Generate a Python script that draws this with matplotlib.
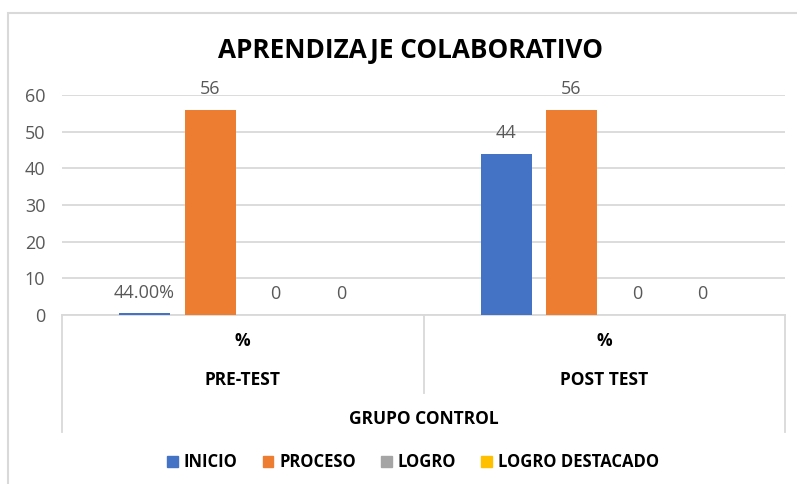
import numpy as np
import matplotlib.pyplot as plt
from matplotlib.patches import Rectangle
from matplotlib.lines import Line2D

plt.rcParams['font.family'] = ['Open Sans', 'DejaVu Sans']

series = ['INICIO', 'PROCESO', 'LOGRO', 'LOGRO DESTACADO']
colors = ['#4472C4', '#ED7D31', '#A5A5A5', '#FFC000']
groups = ['PRE-TEST', 'POST TEST']
sub_label = '%'
outer_label = 'GRUPO CONTROL'
values = {
    'INICIO': [0.44, 44],
    'PROCESO': [56, 56],
    'LOGRO': [0, 0],
    'LOGRO DESTACADO': [0, 0],
}
labels = {
    'INICIO': ['44.00%', '44'],
    'PROCESO': ['56', '56'],
    'LOGRO': ['0', '0'],
    'LOGRO DESTACADO': ['0', '0'],
}
yticks = [0, 10, 20, 30, 40, 50, 60]

fig = plt.figure(figsize=(7.97, 4.84), dpi=100)
ax = fig.add_axes([62/797, 1-315/484, (785-62)/797, 220/484])

x = np.arange(len(groups))
width = 0.141
step = 0.181
for i, s in enumerate(series):
    off = (i - 1.5) * step
    bars = ax.bar(x + off, values[s], width, color=colors[i], zorder=3)
    for b, lab in zip(bars, labels[s]):
        ax.annotate(lab, (b.get_x() + b.get_width()/2, b.get_height()),
                    xytext=(0, 15), textcoords='offset points',
                    ha='center', va='center', fontsize=13, color='#595959')

ax.set_xlim(-0.5, len(groups) - 0.5)
ax.set_ylim(0, 60)
ax.set_yticks(yticks)
ax.tick_params(axis='y', length=0, pad=12, labelsize=13, labelcolor='#595959')
ax.set_xticks([])
ax.grid(axis='y', color='#D9D9D9', lw=1.3, zorder=0)
for sp in ['top', 'right', 'left']:
    ax.spines[sp].set_visible(False)
ax.spines['bottom'].set_color('#D9D9D9')
ax.spines['bottom'].set_linewidth(1.3)

# multi-level category axis
tr = ax.get_xaxis_transform()
for xe, ybot in [(-0.5, -0.532), (0.5, -0.355), (1.5, -0.532)]:
    ax.add_line(Line2D([xe, xe], [0, ybot], transform=tr, color='#D9D9D9',
                       lw=1.3, clip_on=False))
for xi, g in zip(x, groups):
    ax.text(xi, -0.118, sub_label, transform=tr, ha='center', va='center',
            fontsize=12.5, fontweight='bold', color='#000000')
    ax.text(xi, -0.295, g, transform=tr, ha='center', va='center',
            fontsize=12.5, fontweight='bold', color='#000000')
ax.text(0.5, -0.473, outer_label, transform=tr, ha='center', va='center',
        fontsize=12.5, fontweight='bold', color='#000000')

fig.text(410/797, 1-50/484, 'APRENDIZAJE COLABORATIVO', ha='center', va='center',
         fontsize=18.8, fontweight='bold', color='#000000')

handles = [Rectangle((0, 0), 1, 1, color=c) for c in colors]
leg = fig.legend(handles, series, loc='center', bbox_to_anchor=(413/797, 1-462/484),
                 ncol=4, frameon=False, handlelength=0.65, handleheight=0.65,
                 handletextpad=0.35, columnspacing=1.5, prop={'size': 12, 'weight': 'bold'})

fig.add_artist(Rectangle((8/797, -0.1), 1.2, 1.1 - 13/484, transform=fig.transFigure,
                         fill=False, edgecolor='#D9D9D9', lw=1.5))

fig.savefig('out.png', dpi=100)
